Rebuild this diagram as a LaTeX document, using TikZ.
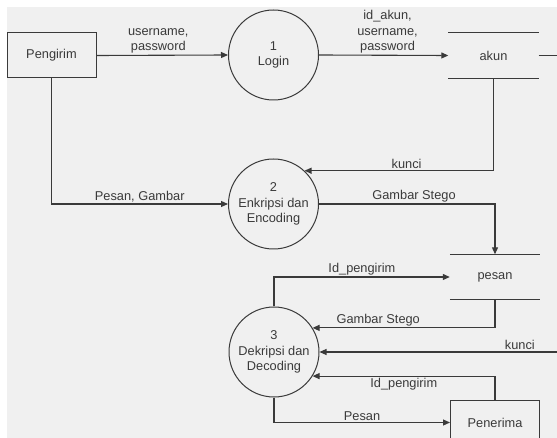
\documentclass[tikz,border=0pt]{standalone}
\usepackage{fontspec}
\setmainfont{Liberation Sans}
\usetikzlibrary{arrows.meta}
\definecolor{panel}{HTML}{F0F0F0}
\definecolor{ink}{HTML}{3A3A3A}
\begin{document}
\begin{tikzpicture}[x=1pt,y=-1pt,
  every node/.style={font=\fontsize{12.8}{15.5}\selectfont, text=ink},
  flow/.style={draw=ink, line width=1.1pt, -{Triangle[length=7pt,width=6pt]}},
  proc/.style={circle, draw=ink, line width=1pt, minimum size=90pt, inner sep=0pt, align=center},
  entity/.style={rectangle, draw=ink, line width=1pt, minimum width=89pt, minimum height=45pt},
  store/.style={rectangle, minimum width=90pt, minimum height=45pt},
  storeline/.style={draw=ink, line width=1.1pt},
  lbl/.style={inner sep=1.5pt, align=center}]

\useasboundingbox (0,0) rectangle (557,438);
\clip (0,0) rectangle (557,438);
\fill[white] (0,0) rectangle (557,438);
\fill[panel] (7,7) rectangle (557,438);

% external entities
\node[entity] (pengirim) at (51.5,55.5) {Pengirim};
\node[entity] (penerima) at (495,422.5) {Penerima};

% processes
\node[proc] (login)    at (273.5,55)  {1\\Login};
\node[proc] (enkripsi) at (273.5,204) {2\\Enkripsi dan\\Encoding};
\node[proc] (dekripsi) at (274,352)   {3\\Dekripsi dan\\Decoding};

% data stores
\node[store] (akun)  at (493.5,55.5) {akun};
\node[store] (pesan) at (495,277)    {pesan};
\draw[storeline] (akun.north west) -- (akun.north east)
                 (akun.south west) -- (akun.south east);
\draw[storeline] (pesan.north west) -- (pesan.north east)
                 (pesan.south west) -- (pesan.south east);

% data flows
\draw[flow] (pengirim.east) -- node[lbl, above, pos=0.47] {username,\\password} (login.west);
\draw[flow] (login.east) -- node[lbl, above, pos=0.53] {id\_akun,\\username,\\password} (akun.west);
\draw[flow] (akun.south) |- node[lbl, above, pos=0.73] {kunci} (enkripsi.47);
\draw[flow] (pengirim.south) |- node[lbl, above, pos=0.75] {Pesan, Gambar} (enkripsi.west);
\draw[flow] (enkripsi.east) -| node[lbl, above, pos=0.27] {Gambar Stego} (pesan.north);
\draw[flow] (dekripsi.north) |- node[lbl, above, pos=0.75] {Id\_pengirim} (pesan.west);
\draw[flow] (pesan.south) |- node[lbl, above, pos=0.82] {Gambar Stego} (dekripsi.32);
\draw[flow] (akun.east) -- (570,55.5) -- (570,352) -- node[lbl, above, pos=0.2] {kunci} (dekripsi.east);
\draw[flow] (penerima.north) |- node[lbl, below, pos=0.75] {Id\_pengirim} (dekripsi.-32);
\draw[flow] (dekripsi.south) |- node[lbl, above, pos=0.75] {Pesan} (penerima.west);
\end{tikzpicture}
\end{document}
